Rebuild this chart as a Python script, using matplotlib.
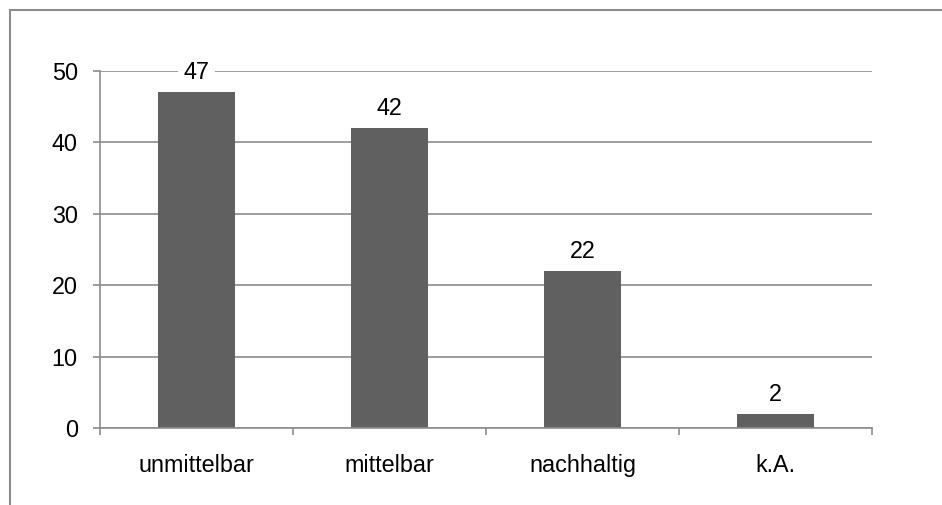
import matplotlib.pyplot as plt
from matplotlib.patches import Rectangle

categories = ["unmittelbar", "mittelbar", "nachhaltig", "k.A."]
values = [47, 42, 22, 2]
yticks = [0, 10, 20, 30, 40, 50]

plt.rcParams['font.family'] = ['Liberation Sans', 'DejaVu Sans']

fig = plt.figure(figsize=(9.42, 5.05), dpi=100)
ax = fig.add_axes([100 / 942, 77 / 505, 772 / 942, 357 / 505])

grey = "#8c8c8c"
fs = 16.8
x = list(range(len(categories)))
bars = ax.bar(x, values, width=0.4, color="#606060", zorder=3)

ax.set_xlim(-0.5, len(categories) - 0.5)
ax.set_ylim(0, 50)
ax.set_yticks(yticks)
ax.set_yticklabels([str(v) for v in yticks], fontsize=fs)
ax.set_xticks(x)
ax.set_xticklabels(categories, fontsize=fs)
ax.set_xticks([i - 0.5 for i in range(len(categories) + 1)], minor=True)
ax.tick_params(axis="x", which="major", length=0, pad=19)
ax.tick_params(axis="x", which="minor", length=5, color=grey, width=1.2)
ax.tick_params(axis="y", length=5, color=grey, width=1.2, pad=11)

ax.grid(axis="y", color=grey, linewidth=1.2, zorder=0)
for s in ["top", "right"]:
    ax.spines[s].set_visible(False)
for s in ["left", "bottom"]:
    ax.spines[s].set_color(grey)
    ax.spines[s].set_linewidth(1.2)
    ax.spines[s].set_zorder(4)

for rect, v in zip(bars, values):
    ax.annotate(str(v), (rect.get_x() + rect.get_width() / 2, v),
                xytext=(0, 14), textcoords="offset points",
                ha="center", va="center", fontsize=fs, zorder=5,
                bbox=dict(facecolor="white", edgecolor="none", pad=4),
                annotation_clip=False)

# outer border of the chart area (only left and top edges visible)
fig.patches.append(Rectangle((9.5 / 942, -0.1), 2, 1 - 9.5 / 505 + 0.1,
                             transform=fig.transFigure, fill=False,
                             edgecolor=grey, linewidth=1.5))

fig.savefig("out.png", dpi=100)
